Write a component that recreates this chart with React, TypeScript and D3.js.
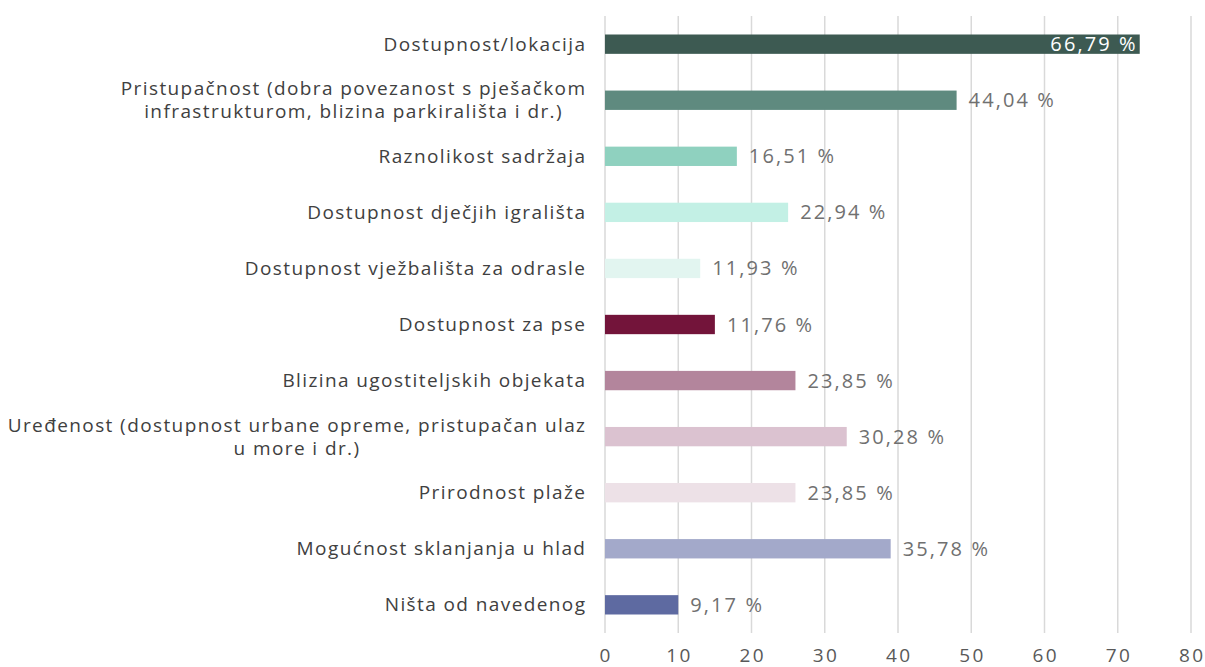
import React, { useMemo } from "react";
import * as d3 from "d3";

const categories: string[][] = [
  ["Dostupnost/lokacija"],
  ["Pristupačnost (dobra povezanost s pješačkom", "infrastrukturom, blizina parkirališta i dr.)"],
  ["Raznolikost sadržaja"],
  ["Dostupnost dječjih igrališta"],
  ["Dostupnost vježbališta za odrasle"],
  ["Dostupnost za pse"],
  ["Blizina ugostiteljskih objekata"],
  ["Uređenost (dostupnost urbane opreme, pristupačan ulaz", "u more i dr.)"],
  ["Prirodnost plaže"],
  ["Mogućnost sklanjanja u hlad"],
  ["Ništa od navedenog"],
];

const barValues: number[] = [73, 48, 18, 25, 13, 15, 26, 33, 26, 39, 10];

const valueLabels: string[] = [
  "66,79 %", "44,04 %", "16,51 %", "22,94 %", "11,93 %", "11,76 %",
  "23,85 %", "30,28 %", "23,85 %", "35,78 %", "9,17 %",
];

const barColors: string[] = [
  "#3d5a52", "#5f8a7f", "#8fd1bf", "#c3f0e5", "#e2f5f0", "#73143a",
  "#b3859c", "#dbc2d0", "#ede1e7", "#a3a9ca", "#5e6aa1",
];

const xTicks: number[] = [0, 10, 20, 30, 40, 50, 60, 70, 80];

const W = 1205;
const H = 667;
const FONT = "'Open Sans', sans-serif";
const FS = 19;
const FS_VAL = 20;
const LS_CAT = 1.4;
const LS_VAL = 2.1;
const LS_TICK = 2.4;

export default function App() {
  const x = d3.scaleLinear().domain([0, 80]).range([605, 1191]);
  const ids = categories.map((_, i) => String(i));
  const y = d3.scaleBand().domain(ids).range([16, 633]).paddingInner(0.655).paddingOuter(0.33);

  const measure = useMemo(() => {
    const c = document.createElement("canvas").getContext("2d")!;
    c.font = `${FS}px 'Open Sans'`;
    return (s: string) => c.measureText(s).width + s.length * LS_CAT;
  }, []);

  const labelRight = 585 + LS_CAT;

  return (
    <svg width={W} height={H} style={{ position: "absolute", left: 0, top: 0, background: "#fff" }}>
      {xTicks.map((t) => (
        <g key={t}>
          <line x1={x(t)} x2={x(t)} y1={16} y2={633} stroke="#d9d9d9" strokeWidth={1.5} />
          <text
            x={x(t) + LS_TICK / 2}
            y={662}
            textAnchor="middle"
            fontFamily={FONT}
            fontSize={FS}
            letterSpacing={LS_TICK}
            fill="#595959"
          >
            {t}
          </text>
        </g>
      ))}
      {categories.map((lines, i) => {
        const yc = y(String(i))! + y.bandwidth() / 2;
        const maxW = Math.max(...lines.map(measure));
        const cx = labelRight - maxW / 2;
        const lh = 23;
        return (
          <text key={"c" + i} fontFamily={FONT} fontSize={FS} fill="#404040" textAnchor="middle" letterSpacing={LS_CAT}>
            {lines.map((l, j) => (
              <tspan key={j} x={cx} y={yc + (j - (lines.length - 1) / 2) * lh + 6.5}>
                {l}
              </tspan>
            ))}
          </text>
        );
      })}
      {barValues.map((v, i) => {
        const yb = y(String(i))!;
        const inside = i === 0;
        return (
          <g key={"b" + i}>
            <rect x={x(0)} y={yb} width={x(v) - x(0)} height={y.bandwidth()} fill={barColors[i]} />
            <text
              x={inside ? x(v) - 2 : x(v) + 12}
              y={yb + y.bandwidth() / 2 + 7}
              textAnchor={inside ? "end" : "start"}
              fontFamily={FONT}
              fontSize={FS_VAL}
              letterSpacing={LS_VAL}
              fill={inside ? "#ffffff" : "#707070"}
            >
              {valueLabels[i]}
            </text>
          </g>
        );
      })}
    </svg>
  );
}
